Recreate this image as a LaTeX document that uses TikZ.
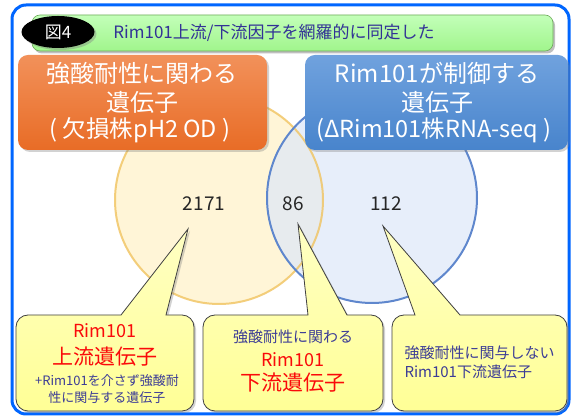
\documentclass[tikz,border=0pt]{standalone}
\usepackage{fontspec}
\setmainfont{Noto Sans CJK JP}
\usetikzlibrary{shadows,shapes.geometric}
\definecolor{frameblue}{RGB}{0,102,255}
\definecolor{titletxt}{RGB}{50,50,150}
\definecolor{calltxt}{RGB}{60,60,150}
\definecolor{redtxt}{RGB}{250,10,10}
\definecolor{callfill}{RGB}{255,255,150}
\definecolor{callfilltop}{RGB}{255,255,195}
\definecolor{yelfill}{RGB}{255,245,215}
\definecolor{yelborder}{RGB}{240,195,95}
\definecolor{blufill}{RGB}{222,231,248}
\definecolor{bluborder}{RGB}{95,135,205}
\newcommand{\fsz}[1]{\fontsize{#1}{#1}\selectfont}
\newcommand{\mycallout}[6]{%
  \path[callbox] (#1,93) arc[start angle=180,end angle=90,radius=12]
    -- (#3,105) -- (#5,#6) -- (#4,105) -- (#2-12,105)
    arc[start angle=90,end angle=0,radius=12] -- (#2,21)
    arc[start angle=0,end angle=-90,radius=12] -- (#1+12,9)
    arc[start angle=270,end angle=180,radius=12] -- cycle;}
\tikzset{
  callbox/.style={draw=black!75, line width=0.8pt, top color=callfilltop, bottom color=callfill,
    drop shadow={opacity=0.35, shadow xshift=2pt, shadow yshift=-2pt}},
  headbox/.style={rounded corners=10pt, drop shadow={opacity=0.35, shadow xshift=2pt, shadow yshift=-2pt}},
  num/.style={font=\fsz{19}, text=black!85},
  wtxt/.style={text=white, align=center},
}
\begin{document}
\begin{tikzpicture}[x=1pt,y=1pt]
\useasboundingbox (0,0) rectangle (571,420);
\fill[white] (0,0) rectangle (571,420);
% frame
\draw[frameblue, line width=3pt, rounded corners=14pt] (12,415) rectangle (569,6);
% title bar
\path[rounded corners=8pt, top color={rgb,255:red,195;green,255;blue,185}, bottom color={rgb,255:red,160;green,245;blue,140},
  draw={rgb,255:red,110;green,170;blue,90}, line width=0.6pt,
  drop shadow={opacity=0.5, shadow xshift=2pt, shadow yshift=-2.5pt}] (32,405) rectangle (553,369);
\node[ellipse, fill=black, minimum width=73pt, minimum height=32pt, inner sep=0pt,
  drop shadow={opacity=0.4, shadow xshift=2pt, shadow yshift=-2pt}] (fig) at (58,388) {};
\node[text=white, font=\fsz{17}] (figlab) at (fig) {図4};
\node[text=titletxt, font=\fsz{17}] (title) at (274,387) {Rim101上流/下流因子を網羅的に同定した};
% circles
\fill[yelfill] (219,220) circle[radius=104];
\fill[blufill, opacity=0.7] (372,222) circle[radius=105];
\draw[yelborder, line width=2pt, opacity=0.8] (219,220) circle[radius=104];
\draw[bluborder, line width=2pt] (372,222) circle[radius=105];
\coordinate (ycirc) at (219,220);
\coordinate (bcirc) at (372,222);
% numbers
\node[num] (n1) at (204,216) {2171};
\node[num] (n2) at (293,216) {86};
\node[num] (n3) at (386,216) {112};
% header boxes
\path[headbox, top color={rgb,255:red,242;green,145;blue,90}, bottom color={rgb,255:red,232;green,108;blue,38}] (18,365) rectangle (267,270);
\path[headbox, top color={rgb,255:red,112;green,162;blue,222}, bottom color={rgb,255:red,72;green,132;blue,204}] (305,365) rectangle (568,270);
\node[wtxt, font=\fsz{24}] (o1) at (142,347) {強酸耐性に関わる};
\node[wtxt, font=\fsz{24}] (o2) at (142,318) {遺伝子};
\node[wtxt, font=\fsz{23.5}] (o3) at (140,290) {( 欠損株pH2 OD )};
\node[wtxt, font=\fsz{24}] (b1) at (437,347) {Rim101が制御する};
\node[wtxt, font=\fsz{24}] (b2) at (437,318) {遺伝子};
\node[wtxt, font=\fsz{23.5}] (b3) at (434,290) {(ΔRim101株RNA-seq )};
% callouts
\mycallout{16}{194}{121}{166}{188}{191}
\mycallout{203}{383}{308}{347}{298}{196}
\mycallout{392}{567}{415}{460}{383}{194}
\node[text=redtxt, font=\fsz{18}] (c1a) at (105,89) {Rim101};
\node[text=redtxt, font=\fsz{21}] (c1b) at (105,63) {上流遺伝子};
\node[text=calltxt, font=\fsz{13}] (c1c) at (107,39) {+Rim101を介さず強酸耐};
\node[text=calltxt, font=\fsz{13}] (c1d) at (107,22) {性に関与する遺伝子};
\node[text=calltxt, font=\fsz{15}] (c2a) at (293,83) {強酸耐性に関わる};
\node[text=redtxt, font=\fsz{18}] (c2b) at (293,60) {Rim101};
\node[text=redtxt, font=\fsz{21}] (c2c) at (293,37) {下流遺伝子};
\node[text=calltxt, font=\fsz{15}, anchor=west] (c3a) at (401,67) {強酸耐性に関与しない};
\node[text=calltxt, font=\fsz{15}, anchor=west] (c3b) at (401,48) {Rim101下流遺伝子};
\end{tikzpicture}
\end{document}
